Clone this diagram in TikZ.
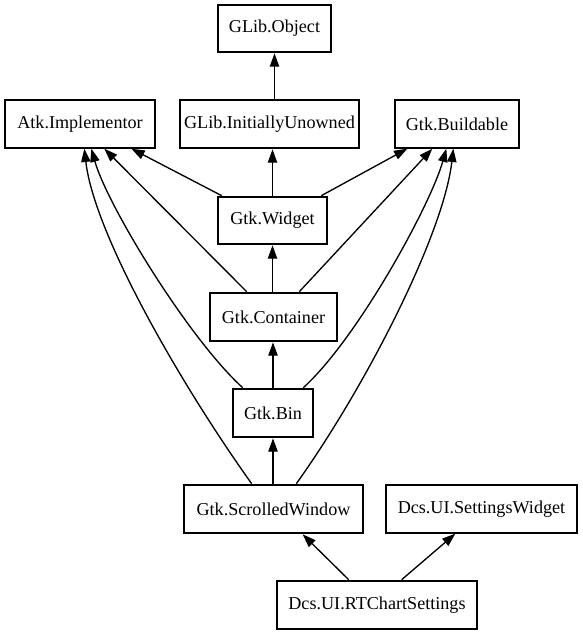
\documentclass[tikz,border=0pt]{standalone}
\usepackage{fontspec}
\setmainfont{Liberation Serif}
\usetikzlibrary{arrows.meta,calc}
\begin{document}
\begin{tikzpicture}[x=0.75pt,y=-0.75pt,
  cls/.style={draw,rectangle,inner sep=0pt,line width=2pt,font=\fontsize{13.6}{16}\selectfont,minimum height=48*0.75pt},
  ifc/.style={cls,line width=1pt},
  wd/.style={minimum width=#1*0.75pt},
  edge/.style={line width=1pt,-{Triangle[length=10pt,width=7pt]}}]
\useasboundingbox (0,0) rectangle (582,635);
% nodes
\node[cls,wd=113,minimum height=47*0.75pt] (obj) at (274.5,28.5) {GLib.Object};
\node[cls,wd=179] (iu) at (269.5,124) {GLib.InitiallyUnowned};
\node[ifc,wd=150] (atk) at (80,124) {Atk.Implementor};
\node[ifc,wd=124] (bld) at (457,124) {Gtk.Buildable};
\node[cls,wd=109,minimum height=47*0.75pt] (wid) at (272.5,220.5) {Gtk.Widget};
\node[cls,wd=127] (con) at (273.5,317) {Gtk.Container};
\node[cls,wd=80] (bin) at (273,413) {Gtk.Bin};
\node[cls,wd=179] (sw) at (273.5,509) {Gtk.ScrolledWindow};
\node[ifc,wd=191] (sws) at (481.5,509) {Dcs.UI.SettingsWidget};
\node[cls,wd=200] (rt) at (377,605) {Dcs.UI.RTChartSettings};
% vertical edges
\draw[edge] (iu.north -| obj.south) -- (obj.south);
\draw[edge] (wid.north) -- (wid.north |- iu.south);
\draw[edge] (con.north -| wid.south) -- (wid.south);
\draw[edge] (bin.north) -- (bin.north |- con.south);
\draw[edge] (sw.north -| bin.south) -- (bin.south);
% diagonal edges
\draw[edge] ($(wid.north west)+(5,0)$) -- ($(atk.south west)+(127,0)$);
\draw[edge] ($(wid.north east)+(-7,0)$) -- ($(bld.south west)+(13,0)$);
\draw[edge] ($(con.north west)+(38,0)$) -- ($(atk.south west)+(100,0)$);
\draw[edge] ($(con.north east)+(-39,0)$) -- ($(bld.south west)+(38,0)$);
\draw[edge] ($(bin.north west)+(11,0)$) .. controls +(-54,-49) and +(16,57) .. ($(atk.south west)+(87,0)$);
\draw[edge] ($(bin.north east)+(-11,0)$) .. controls +(54,-49) and +(-16,57) .. ($(bld.south west)+(52,0)$);
\draw[edge] ($(sw.north west)+(69,0)$) .. controls +(-68,-95) and +(10,87) .. ($(atk.south west)+(80,0)$);
\draw[edge] ($(sw.north east)+(-68,0)$) .. controls +(68,-95) and +(-10,87) .. ($(bld.south west)+(59,0)$);
\draw[edge] ($(rt.north west)+(73,0)$) -- ($(sw.south west)+(120,0)$);
\draw[edge] ($(rt.north west)+(126,0)$) -- ($(sws.south west)+(70,0)$);
\end{tikzpicture}
\end{document}
